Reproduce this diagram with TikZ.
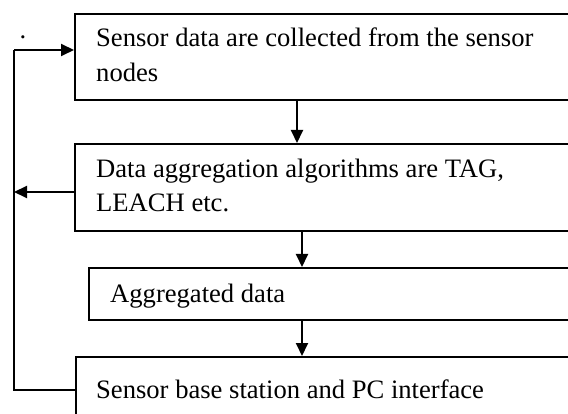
\documentclass[tikz,border=0pt]{standalone}
\usepackage{fontspec}
\setmainfont{Liberation Serif}
\usetikzlibrary{arrows.meta}
\begin{document}
\begin{tikzpicture}[x=1pt,y=-1pt,
  box/.style={draw,line width=2pt,anchor=north west,inner sep=0pt,minimum height=#1},
  label/.style={anchor=base west,inner sep=0pt,font=\fontsize{26.6}{35}\selectfont},
  arr/.style={line width=2pt,-{Triangle[length=13pt,width=12pt]}},
  link/.style={line width=2pt}]
\useasboundingbox (0,0) rectangle (568,414);
\clip (0,0) rectangle (568,414);

% process boxes (they run past the right and bottom edges)
\node[box=86pt,minimum width=540pt] (b1) at (74,13) {};
\node[box=87pt,minimum width=540pt] (b2) at (74,143) {};
\node[box=52pt,minimum width=540pt] (b3) at (88,267) {};
\node[box=90pt,minimum width=540pt] (b4) at (75,356) {};

% box texts
\node[label] (t1a) at (96,47) {Sensor data are collected from the sensor};
\node[label] (t1b) at (96,82) {nodes};
\node[label] (t2a) at (96,178) {Data aggregation algorithms are TAG,};
\node[label] (t2b) at (96,212) {LEACH etc.};
\node[label] (t3) at (110,303) {Aggregated data};
\node[label] (t4) at (96,398) {Sensor base station and PC interface};

% stray full stop above the feedback loop
\node[anchor=base,inner sep=0pt,font=\fontsize{26.6}{35}\selectfont] (dot) at (23,39) {.};

% downward flow
\coordinate (x1) at (297,0);
\coordinate (x2) at (302,0);
\draw[arr] (b1.south -| x1) -- (b2.north -| x1);
\draw[arr] (b2.south -| x2) -- (b3.north -| x2);
\draw[arr] (b3.south -| x2) -- (b4.north -| x2);

% feedback loop on the left
\coordinate (loopTop) at (14,50);
\coordinate (loopMid) at (14,192);
\coordinate (loopBot) at (14,390);
\draw[link] (b4.west |- loopBot) -- (loopBot) -- (loopTop);
\draw[arr] (loopTop) -- (b1.west |- loopTop);
\draw[arr] (b2.west |- loopMid) -- (loopMid);
\end{tikzpicture}
\end{document}
